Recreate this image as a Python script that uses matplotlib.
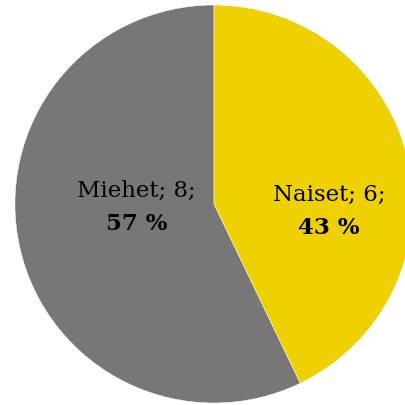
import matplotlib
matplotlib.use('Agg')
import matplotlib.pyplot as plt

labels = ['Naiset', 'Miehet']
values = [6, 8]
colors = ['#EFD000', '#777777']

# label anchor spots (data units, pie radius = 1)
label_xy = [(0.578, 0.045, -0.12), (-0.39, 0.065, -0.10)]

fig = plt.figure(figsize=(4.05, 4.05), dpi=100)
ax = fig.add_axes([0, 0, 1, 1])
ax.pie(values, colors=colors, startangle=90, counterclock=False,
       radius=1, wedgeprops=dict(edgecolor='white', linewidth=0.4))
ax.set_xlim(-1.075, 0.960)
ax.set_ylim(-1.010, 1.025)
ax.set_aspect('equal')
ax.axis('off')

total = sum(values)
for lab, v, (x, y1, y2) in zip(labels, values, label_xy):
    pct = round(100 * v / total)
    ax.text(x, y1, f'{lab}; {v};', ha='center', va='center',
            fontsize=16.5, family='DejaVu Serif')
    ax.text(x, y2, f'{pct} %', ha='center', va='center',
            fontsize=16.5, family='DejaVu Serif', fontweight='bold')

fig.savefig('out.png', dpi=100)
